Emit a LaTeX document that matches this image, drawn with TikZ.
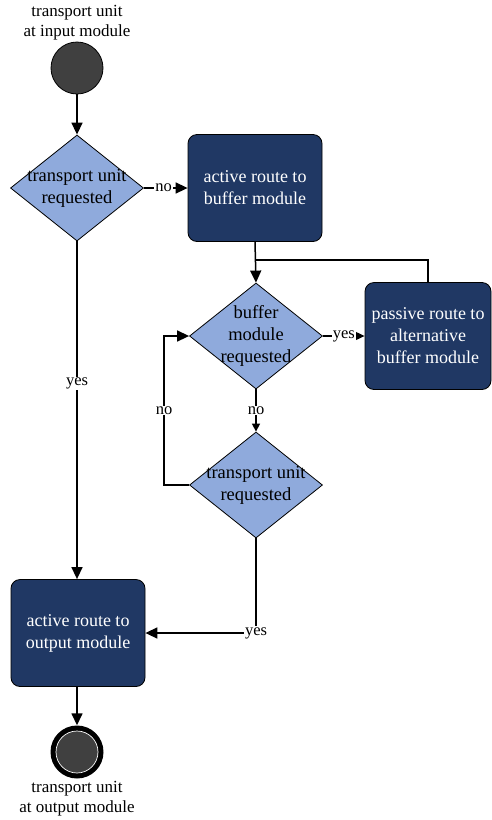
\documentclass[tikz,border=0pt]{standalone}
\usepackage{fontspec}
\setmainfont{Liberation Serif}
\usetikzlibrary{shapes.geometric,arrows.meta}
\definecolor{navy}{HTML}{203864}
\definecolor{paleblue}{HTML}{8FAADC}
\definecolor{startgray}{HTML}{404040}
\tikzset{
  decision/.style={diamond, draw=black, line width=0.8pt, fill=paleblue,
    minimum width=133pt, minimum height=106pt, inner sep=0pt, aspect=1.25},
  dtext/.style={align=center, font=\fontsize{18.5}{22}\selectfont, text=black},
  action/.style={rectangle, rounded corners=9pt, draw=black, line width=0.8pt,
    fill=navy, text=white, align=center, minimum width=134pt, minimum height=107pt,
    font=\fontsize{18}{22}\selectfont},
  caption/.style={align=center, font=\fontsize{17}{20}\selectfont},
  lbl/.style={fill=white, inner sep=1pt, font=\fontsize{16.5}{18}\selectfont},
  flow/.style={line width=1.5pt, -{Triangle[length=12pt,width=11pt]}},
  flowsmall/.style={line width=1.5pt, -{Triangle[length=8pt,width=8pt]}},
  plain/.style={line width=1.5pt},
}
\begin{document}
\begin{tikzpicture}[x=1pt,y=-1pt]
\useasboundingbox (0,0) rectangle (492,820);

% start and end states
\node[circle, draw=black, line width=0.8pt, fill=startgray, minimum size=52pt, inner sep=0pt] (start) at (77,68) {};
\node[caption] (startcap) at (77,23) {transport unit\\at input module};

\node[circle, fill=black, minimum size=53pt, inner sep=0pt] (finish) at (77,752) {};
\node[circle, fill=startgray, draw=white, line width=0.7pt, minimum size=42pt, inner sep=0pt] (finishcore) at (finish) {};
\node[caption] (finishcap) at (77,799) {transport unit\\at output module};

% decisions
\node[decision] (d1) at (77,188) {};
\node[dtext] (d1t) at (d1) {transport unit\\requested};
\node[decision] (d2) at (256,336) {};
\node[dtext] (d2t) at (d2) {buffer\\module\\requested};
\node[decision] (d3) at (256,485) {};
\node[dtext] (d3t) at (d3) {transport unit\\requested};

% actions
\node[action] (b1) at (255,188) {active route to\\buffer module};
\node[action, minimum width=126pt] (pb) at (428,336) {passive route to\\alternative\\buffer module};
\node[action] (out) at (78,633) {active route to\\output module};

% connectors
\coordinate (join) at (256,260);
\coordinate (loopc) at (164,485);

\draw[flow] (start) -- (d1.north);
\draw[flow] (d1.east) -- node[lbl, pos=0.45] {no} (b1.west);
\draw[flow] (b1.south) -- (d2.north);
\draw[plain] (pb.north) |- (join);
\draw[flow] (d2.east) -- node[lbl, pos=0.5] {yes} (pb.west);
\draw[flowsmall] (d2.south) -- node[lbl] {no} (d3.north);
\draw[flow] (d3.west) -- (loopc) |- node[lbl, pos=0.25] {no} (d2.west);
\draw[flow] (d3.south) |- node[lbl, pos=0.5] {yes} (out.east);
\draw[flow] (d1.south) -- node[lbl, pos=0.42] {yes} (d1.south |- out.north);
\draw[flow] (out.south -| finish) -- (finish.north);
\end{tikzpicture}
\end{document}
